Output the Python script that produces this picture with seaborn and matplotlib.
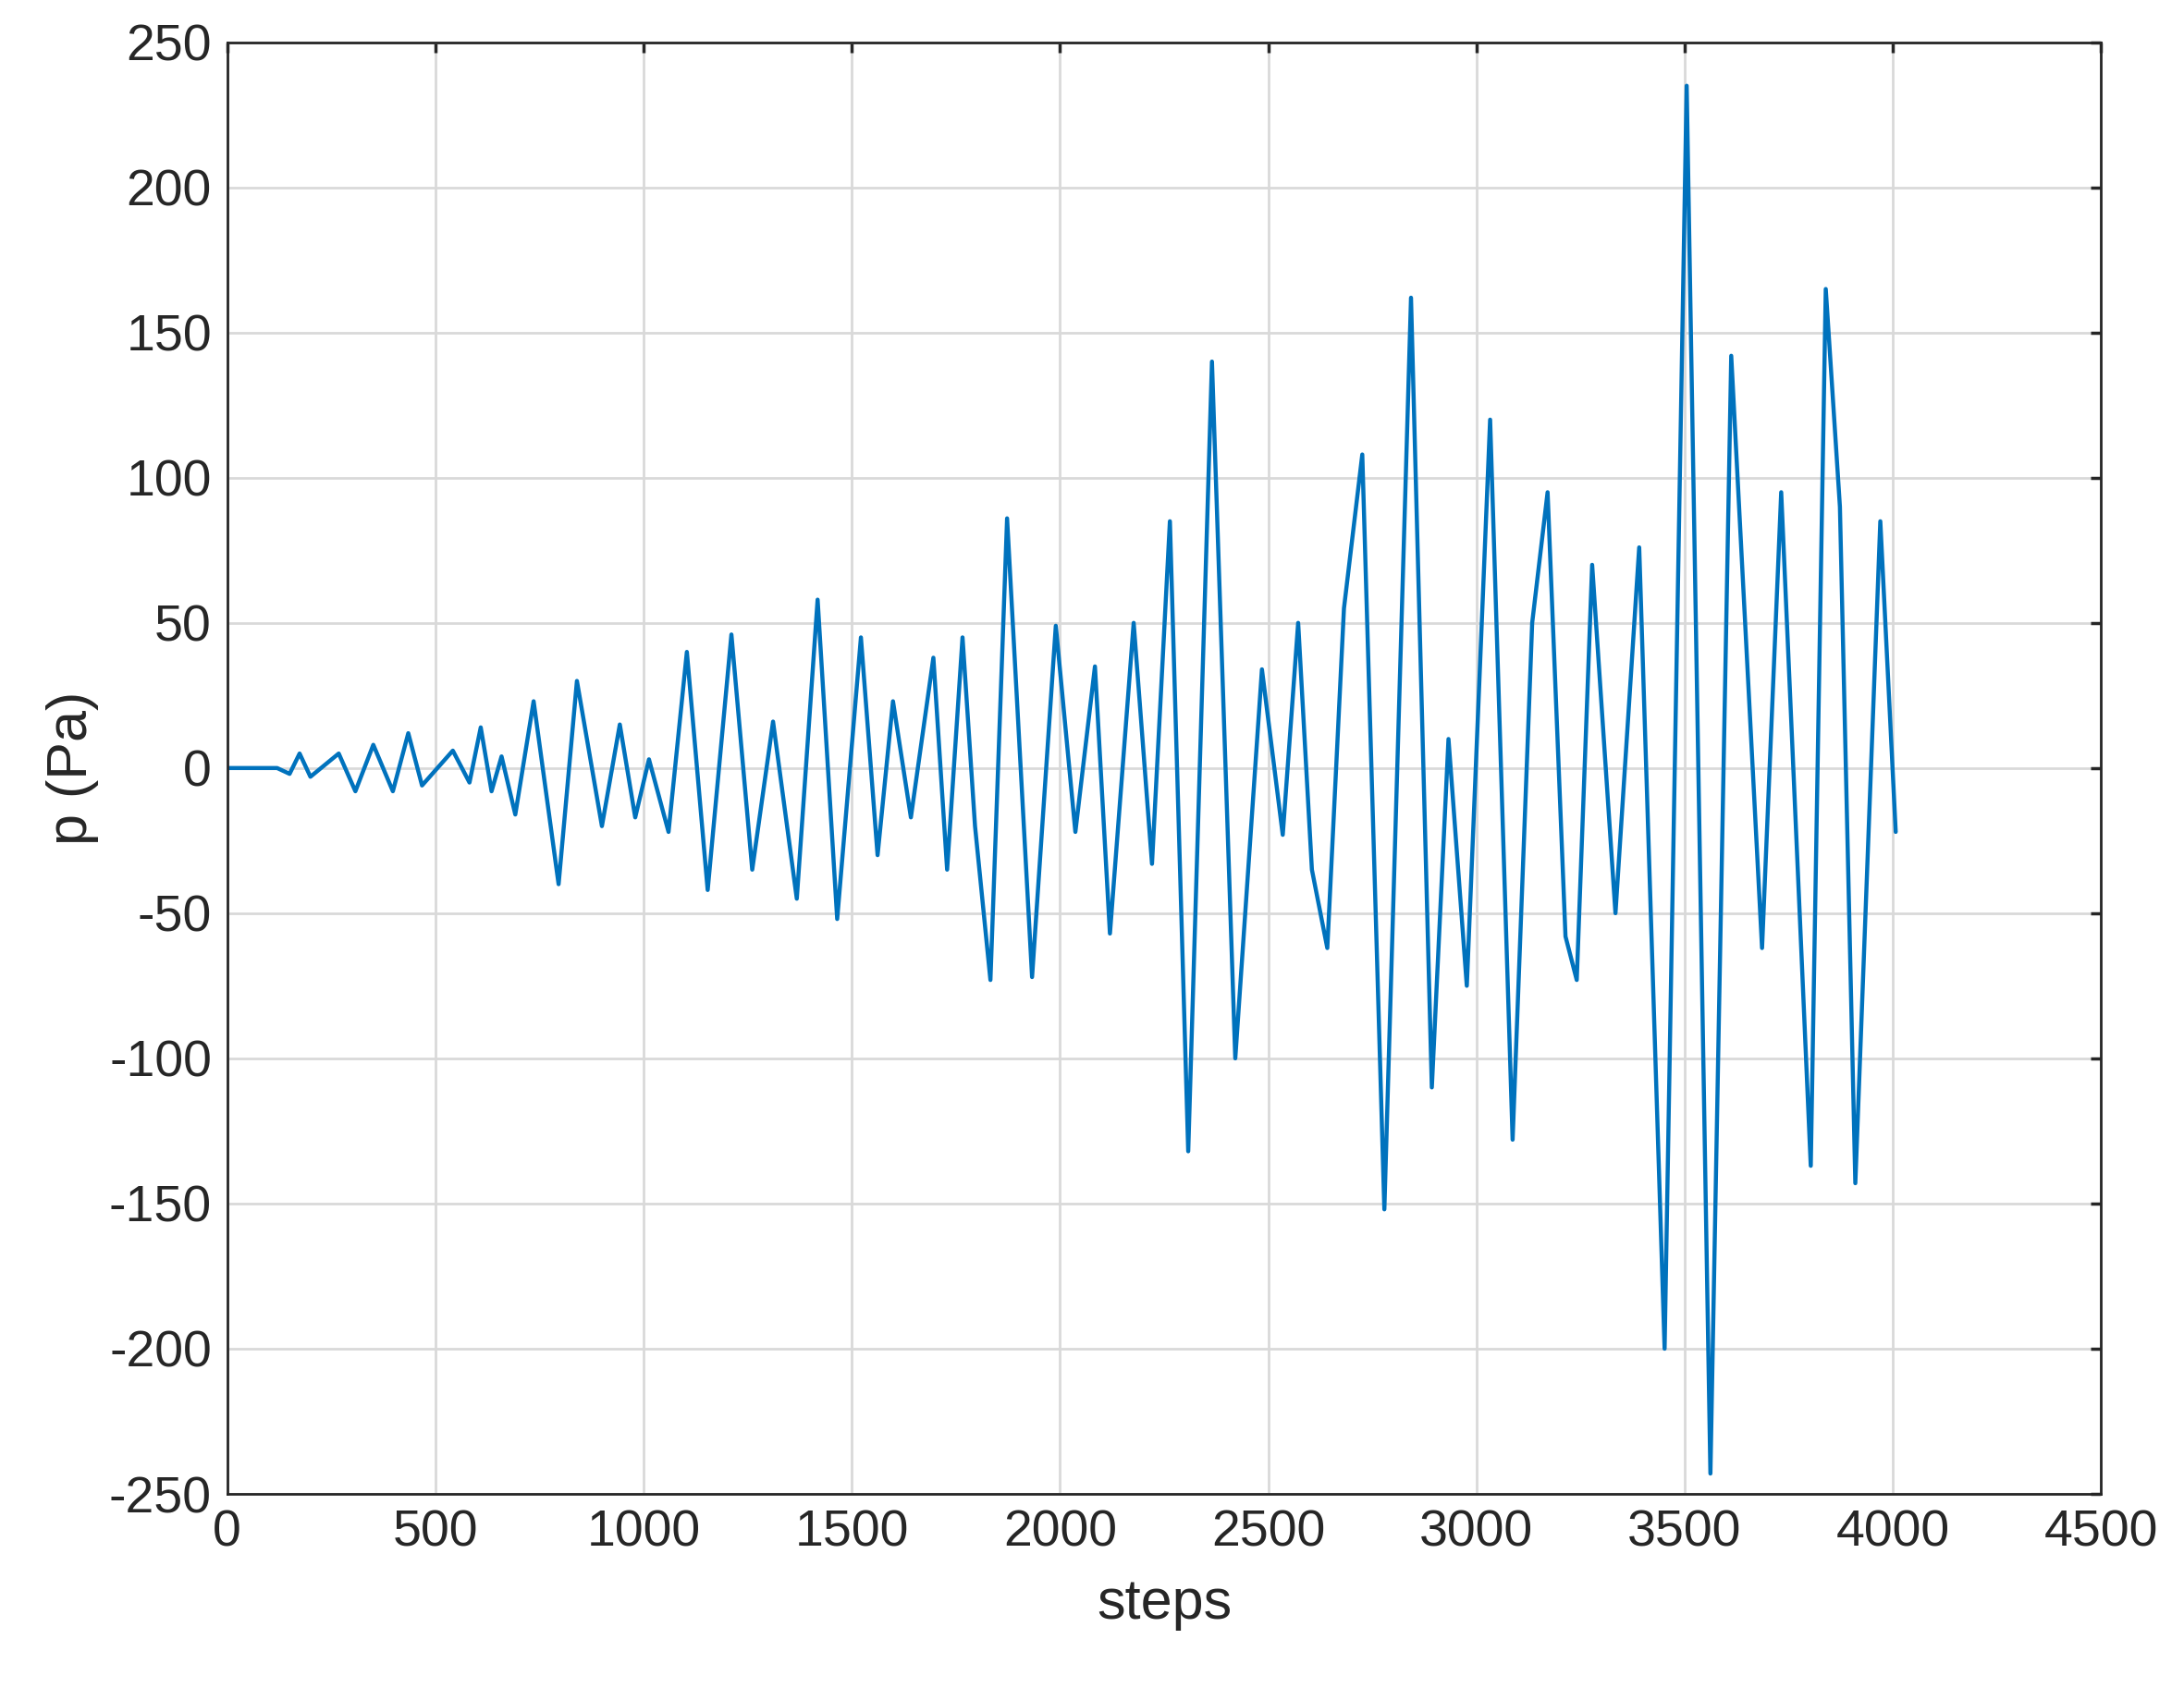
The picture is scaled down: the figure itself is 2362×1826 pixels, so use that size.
import matplotlib
matplotlib.use("Agg")
import matplotlib.pyplot as plt
import seaborn as sns
import pandas as pd

steps = [0, 60, 120, 150, 174, 200, 268, 308, 351, 398, 435, 468, 542, 582, 609, 635, 659, 692,
         736, 796, 840, 900, 943, 980, 1013, 1060, 1104, 1154, 1211, 1261, 1311, 1368, 1418,
         1465, 1522, 1562, 1599, 1642, 1696, 1729, 1766, 1796, 1833, 1873, 1933, 1990, 2037,
         2084, 2120, 2177, 2221, 2264, 2308, 2365, 2421, 2485, 2535, 2572, 2605, 2642, 2682,
         2726, 2779, 2843, 2893, 2933, 2977, 3033, 3087, 3134, 3171, 3214, 3241, 3278, 3334,
         3391, 3452, 3505, 3562, 3612, 3686, 3732, 3803, 3839, 3873, 3910, 3970, 4007]
pressure = [0, 0, 0, -2, 5, -3, 5, -8, 8, -8, 12, -6, 6, -5, 14, -8, 4, -16,
            23, -40, 30, -20, 15, -17, 3, -22, 40, -42, 46, -35, 16, -45, 58,
            -52, 45, -30, 23, -17, 38, -35, 45, -20, -73, 86, -72, 49, -22,
            35, -57, 50, -33, 85, -132, 140, -100, 34, -23, 50, -35, -62, 55,
            108, -152, 162, -110, 10, -75, 120, -128, 50, 95, -58, -73, 70, -50,
            76, -200, 235, -243, 142, -62, 95, -137, 165, 90, -143, 85, -22]

df = pd.DataFrame({"steps": steps, "p": pressure})

sns.set_theme(style="white")
plt.rcParams['font.family'] = ['Liberation Sans', 'DejaVu Sans']
plt.rcParams['axes.unicode_minus'] = False
fig = plt.figure(figsize=(11.81, 9.13), dpi=200)
ax = fig.add_axes([0.104, 0.115, 0.858, 0.86])
sns.lineplot(data=df, x="steps", y="p", ax=ax, color="#0072BD", linewidth=1.6, sort=False)
ax.set_xlim(0, 4500)
ax.set_ylim(-250, 250)
ax.set_xticks(range(0, 4501, 500))
ax.set_yticks(range(-250, 251, 50))
ax.grid(True, color="#d9d9d9", linewidth=1)
for s in ax.spines.values():
    s.set_color("#262626"); s.set_linewidth(1)
ax.tick_params(labelsize=20, colors="#262626", direction="in", length=4, top=True, right=True, pad=6)
ax.set_xlabel("steps", fontsize=22, color="#262626", labelpad=8)
ax.set_ylabel("p (Pa)", fontsize=22, color="#262626", labelpad=4)
fig.savefig("out.png", dpi=200)
